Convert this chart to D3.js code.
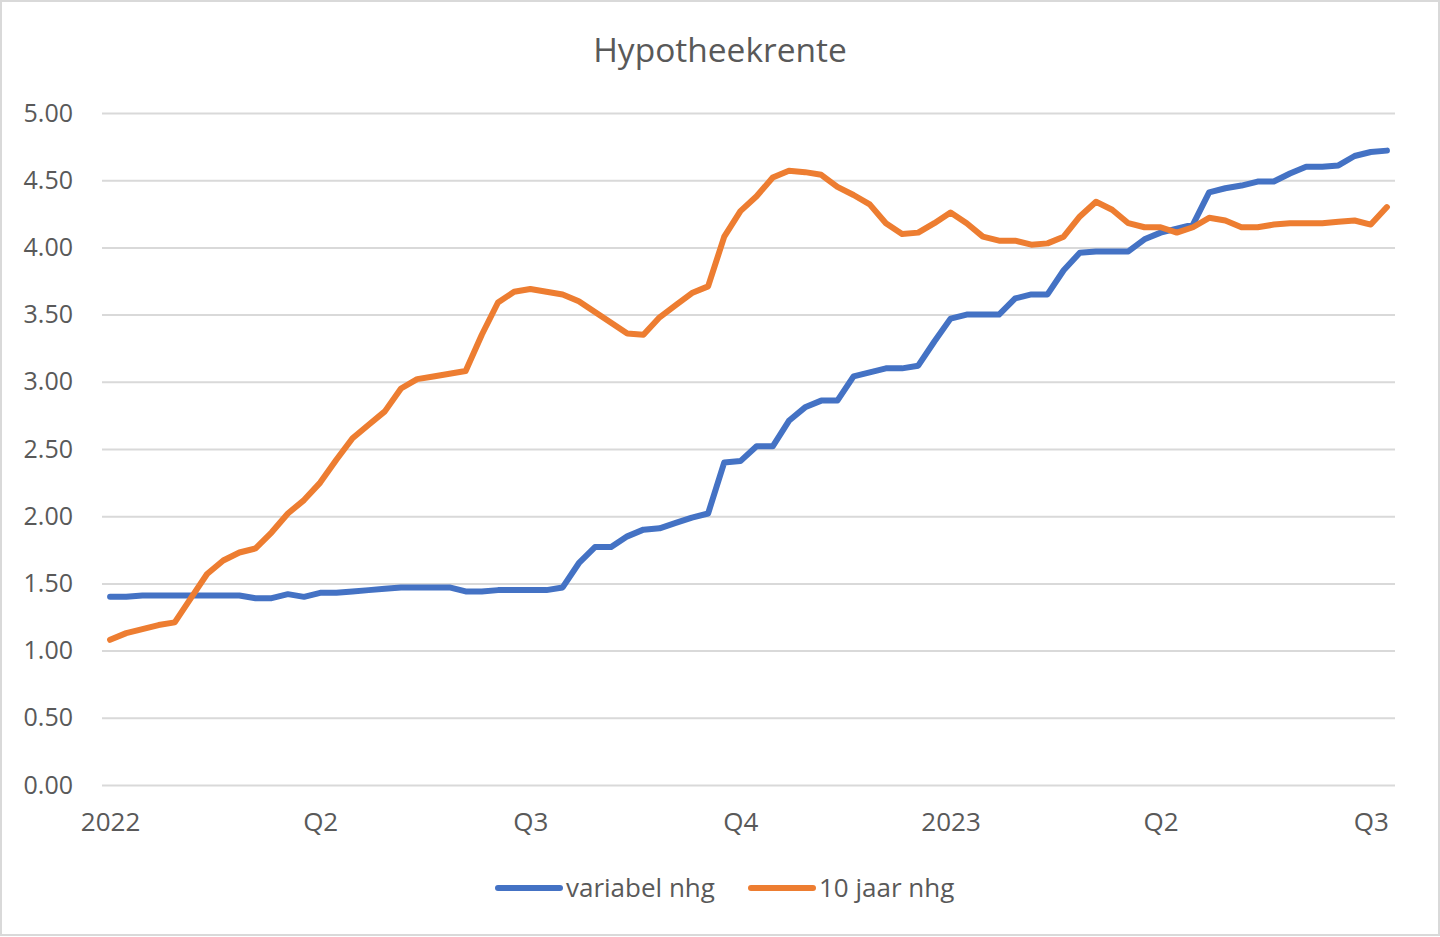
<!DOCTYPE html>
<html>
<head>
<meta charset="utf-8">
<script src="https://d3js.org/d3.v7.min.js"></script>
<style>
  body { margin: 0; background: #fff; font-family: 'Open Sans', sans-serif; }
  svg { display: block; }
</style>
</head>
<body>
<svg width="1440" height="937"></svg>
<script>
// weekly mortgage rates, jan 2022 - jul 2023
var variabel = [1.40, 1.40, 1.41, 1.41, 1.41, 1.41, 1.41, 1.41, 1.41, 1.39,
                1.39, 1.42, 1.40, 1.43, 1.43, 1.44, 1.45, 1.46, 1.47, 1.47,
                1.47, 1.47, 1.44, 1.44, 1.45, 1.45, 1.45, 1.45, 1.47, 1.65,
                1.77, 1.77, 1.85, 1.90, 1.91, 1.95, 1.99, 2.02, 2.40, 2.41,
                2.52, 2.52, 2.71, 2.81, 2.86, 2.86, 3.04, 3.07, 3.10, 3.10,
                3.12, 3.30, 3.47, 3.50, 3.50, 3.50, 3.62, 3.65, 3.65, 3.83,
                3.96, 3.97, 3.97, 3.97, 4.06, 4.11, 4.14, 4.17, 4.41, 4.44,
                4.46, 4.49, 4.49, 4.55, 4.60, 4.60, 4.61, 4.68, 4.71, 4.72];

var tienJaar = [1.08, 1.13, 1.16, 1.19, 1.21, 1.39, 1.57, 1.67, 1.73, 1.76,
                1.88, 2.02, 2.12, 2.25, 2.42, 2.58, 2.68, 2.78, 2.95, 3.02,
                3.04, 3.06, 3.08, 3.35, 3.59, 3.67, 3.69, 3.67, 3.65, 3.60,
                3.52, 3.44, 3.36, 3.35, 3.48, 3.57, 3.66, 3.71, 4.08, 4.27,
                4.38, 4.52, 4.57, 4.56, 4.54, 4.45, 4.39, 4.32, 4.18, 4.10,
                4.11, 4.18, 4.26, 4.18, 4.08, 4.05, 4.05, 4.02, 4.03, 4.08,
                4.23, 4.34, 4.28, 4.18, 4.15, 4.15, 4.11, 4.15, 4.22, 4.20,
                4.15, 4.15, 4.17, 4.18, 4.18, 4.18, 4.19, 4.20, 4.17, 4.30];

var tickWeeks = [0, 13, 26, 39, 52, 65, 78];
var tickLabels = ["2022", "Q2", "Q3", "Q4", "2023", "Q2", "Q3"];
var seriesNames = ["variabel nhg", "10 jaar nhg"];
var colors = ["#4472C4", "#ED7D31"];

var svg = d3.select("svg");
var width = +svg.attr("width");
var height = +svg.attr("height");
var textColor = "#595959";

// outer frame
svg.append("rect")
    .attr("x", 1).attr("y", 1)
    .attr("width", width - 2).attr("height", height - 3)
    .attr("fill", "#fff")
    .attr("stroke", "#d9d9d9")
    .attr("stroke-width", 2);

var plotLeft = 102, plotRight = 1395, plotTop = 113, plotBottom = 785;

var x = d3.scalePoint()
    .domain(d3.range(variabel.length))
    .range([plotLeft, plotRight])
    .padding(0.5);

var y = d3.scaleLinear()
    .domain([0, 5])
    .range([plotBottom, plotTop]);

// title
svg.append("text")
    .attr("x", width / 2)
    .attr("y", 62)
    .attr("text-anchor", "middle")
    .attr("fill", textColor)
    .style("font-size", "33.5px")
    .text("Hypotheekrente");

// y axis with grid lines
var yAxis = d3.axisLeft(y)
    .tickValues(d3.range(0, 5.01, 0.5))
    .tickFormat(d3.format(".2f"))
    .tickSize(-(plotRight - plotLeft))
    .tickPadding(29);

var gy = svg.append("g")
    .attr("transform", "translate(" + plotLeft + ",0)")
    .call(yAxis);
gy.select(".domain").remove();
gy.selectAll(".tick line").attr("stroke", "#d9d9d9").attr("stroke-width", 2);
gy.selectAll(".tick text")
    .attr("fill", textColor)
    .style("font-size", "25px")
    .style("font-family", "'Open Sans', sans-serif");

// x axis
var xAxis = d3.axisBottom(x)
    .tickValues(tickWeeks)
    .tickFormat(function(d, i) { return tickLabels[i]; })
    .tickSize(0)
    .tickPadding(28);

var gx = svg.append("g")
    .attr("transform", "translate(0," + plotBottom + ")")
    .call(xAxis);
gx.select(".domain").remove();
gx.selectAll(".tick text")
    .attr("fill", textColor)
    .style("font-size", "26px")
    .style("font-family", "'Open Sans', sans-serif");

// lines
var line = d3.line()
    .x(function(d, i) { return x(i); })
    .y(function(d) { return y(d); });

[variabel, tienJaar].forEach(function(values, k) {
    svg.append("path")
        .datum(values)
        .attr("d", line)
        .attr("fill", "none")
        .attr("stroke", colors[k])
        .attr("stroke-width", 6)
        .attr("stroke-linejoin", "round")
        .attr("stroke-linecap", "round");
});

// legend
var legendX = [498, 751];
var legend = svg.append("g");
seriesNames.forEach(function(name, k) {
    legend.append("line")
        .attr("x1", legendX[k]).attr("x2", legendX[k] + 62)
        .attr("y1", 888).attr("y2", 888)
        .attr("stroke", colors[k])
        .attr("stroke-width", 6)
        .attr("stroke-linecap", "round");
    legend.append("text")
        .attr("x", legendX[k] + 68)
        .attr("y", 897)
        .attr("fill", textColor)
        .style("font-size", "26px")
        .text(name);
});
</script>
</body>
</html>
